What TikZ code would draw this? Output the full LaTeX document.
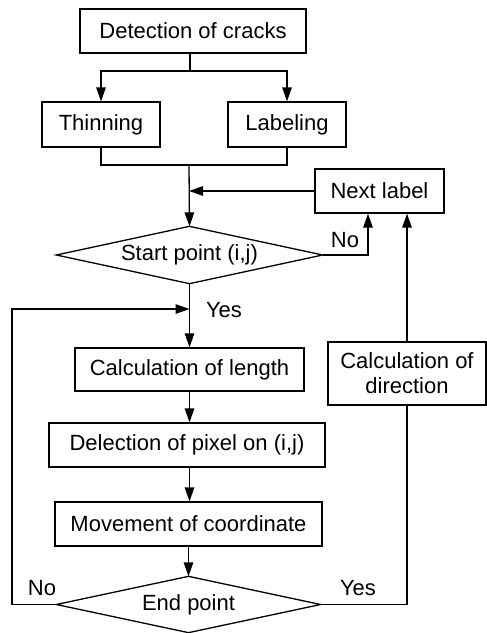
\documentclass[tikz,border=0pt]{standalone}
\usepackage{fontspec}
\setmainfont{Liberation Sans}
\usetikzlibrary{arrows.meta}
\begin{document}
\begin{tikzpicture}[x=1pt,y=-1pt,
  every path/.style={line width=1.3pt},
  txt/.style={font=\fontsize{22}{25}\selectfont, inner sep=0pt},
  box/.style={txt, draw, line width=1.3pt, minimum height=44pt},
  dec/.style={txt},
  arr/.style={-{Triangle[length=14pt,width=9.5pt]}},
  lbl/.style={txt}]
\useasboundingbox (0,0) rectangle (487,633);
% boxes
\node[box, minimum width=226] (det) at (193,31) {Detection of cracks};
\node[box, minimum width=118, minimum height=45] (thin) at (101,124.5) {Thinning};
\node[box, minimum width=118, minimum height=45] (lab) at (287,124.5) {Labeling};
\node[box, minimum width=129] (next) at (379.5,191) {Next label};
\node[dec, minimum width=265, minimum height=56] (start) at (189.5,255) {Start point (i,j)};
\draw (start.north) -- (start.east) -- (start.south) -- (start.west) -- cycle;
\node[box, minimum width=229, minimum height=43] (calcl) at (189.5,369.5) {Calculation of length};
\node[box, minimum width=276] (del) at (187,445) {Delection of pixel on (i,j)};
\node[box, minimum width=267] (mov) at (188.5,524) {Movement of coordinate};
\node[dec, minimum width=263, minimum height=55] (endp) at (188.5,604.5) {End point};
\draw (endp.north) -- (endp.east) -- (endp.south) -- (endp.west) -- cycle;
\node[box, minimum width=158, minimum height=63, align=center] (dir) at (407,373.5) {Calculation of\\direction};
% labels
\node[lbl] (no1) at (345,240) {No};
\node[lbl] (yes1) at (224,310) {Yes};
\node[lbl] (no2) at (42,588) {No};
\node[lbl] (yes2) at (358,588) {Yes};
% connectors
\coordinate (split) at (190,71);
\draw (det.south -| split) -- (split);
\draw[arr] (split) -| (thin.north);
\draw[arr] (split) -| (lab.north);
\coordinate (merge) at (189,165);
\draw (thin.south) |- (lab.south |- merge) -- (lab.south);
\draw[arr] (merge) -- (start.north);
\draw[arr] (next.west) -- (next.west -| merge);
\draw[arr] (start.east) -| ([xshift=-11.5pt]next.south);
\draw[arr] (dir.north) -- (dir.north |- next.south);
\draw[arr] (start.south) -- (start.south |- calcl.north);
\draw[arr] (calcl.south) -- (calcl.south |- del.north);
\draw[arr] (del.south -| calcl.south) -- (calcl.south |- mov.north);
\draw[arr] (mov.south) -- (endp.north);
\coordinate (loopc) at (12,309);
\draw[arr] (endp.west) -| (loopc) -- (loopc -| start.south);
\draw (endp.east) -| (dir.south);
\end{tikzpicture}
\end{document}
